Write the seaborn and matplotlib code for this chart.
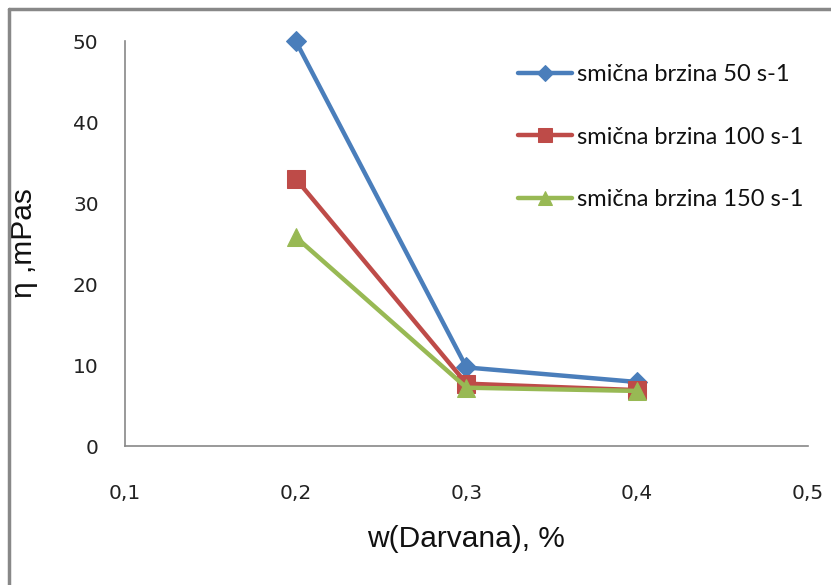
import matplotlib
matplotlib.use("Agg")
import matplotlib.pyplot as plt
import seaborn as sns
import pandas as pd
from matplotlib.lines import Line2D

x_vals = [0.2, 0.3, 0.4]
s50 = [50.0, 9.7, 7.9]
s100 = [33.0, 7.7, 6.9]
s150 = [25.8, 7.2, 6.8]
series_names = ["smična brzina 50 s-1", "smična brzina 100 s-1", "smična brzina 150 s-1"]
x_ticks = [0.1, 0.2, 0.3, 0.4, 0.5]
x_tick_labels = ["0,1", "0,2", "0,3", "0,4", "0,5"]
y_ticks = [0, 10, 20, 30, 40, 50]

rows = []
for name, vals in zip(series_names, [s50, s100, s150]):
    for xv, yv in zip(x_vals, vals):
        rows.append({"w": xv, "eta": yv, "serija": name})
df = pd.DataFrame(rows)

sns.set_theme(style="white")
plt.rcParams['font.family'] = ['DejaVu Sans']

fig = plt.figure(figsize=(8.31, 5.85), dpi=100)
ax = fig.add_axes([0.1504, 0.2376, 0.8219, 0.6923])

colors = ["#4a7ebb", "#be4b48", "#98b954"]
markers = ["D", "s", "^"]
msizes = [10, 13, 13]
for name, c, m, ms in zip(series_names, colors, markers, msizes):
    sub = df[df["serija"] == name]
    sns.lineplot(data=sub, x="w", y="eta", ax=ax, color=c, marker=m,
                 markersize=ms, markeredgecolor=c, linewidth=3.2, label=name,
                 clip_on=False)

ax.set_xlim(0.1, 0.5)
ax.set_ylim(0, 50)
ax.set_xticks(x_ticks)
ax.set_xticklabels(x_tick_labels)
ax.set_yticks(y_ticks)
ax.tick_params(axis='both', length=0, labelsize=14.5, colors="#222222")
ax.tick_params(axis='x', pad=27)
ax.tick_params(axis='y', pad=19)
for s in ["top", "right"]:
    ax.spines[s].set_visible(False)
for s in ["left", "bottom"]:
    ax.spines[s].set_color("#888888")
    ax.spines[s].set_linewidth(1.2)

ax.set_xlabel("w(Darvana), %", fontsize=21.5, labelpad=16, color="#111111",
              family="Liberation Sans")
ax.set_ylabel("η ,mPas", fontsize=21.5, color="#111111", family="Liberation Sans")
ax.yaxis.set_label_coords(-0.127, 0.5)

leg = ax.legend(loc="center left", bbox_to_anchor=(518 / 831, 1 - 137 / 585),
                bbox_transform=fig.transFigure, frameon=False,
                prop={"family": "Lato", "size": 17},
                labelspacing=1.75, handlelength=2.3, handletextpad=0.2,
                borderpad=0, borderaxespad=0, markerscale=0.8)
for t in leg.get_texts():
    t.set_color("#111111")

fig.add_artist(Line2D([0.0114, 0.0114], [0, 0.985], transform=fig.transFigure,
                      color="#888888", linewidth=2.5))
fig.add_artist(Line2D([0.0114, 1.0], [0.985, 0.985], transform=fig.transFigure,
                      color="#888888", linewidth=2.5))

fig.savefig("out.png", dpi=100, facecolor="white")
